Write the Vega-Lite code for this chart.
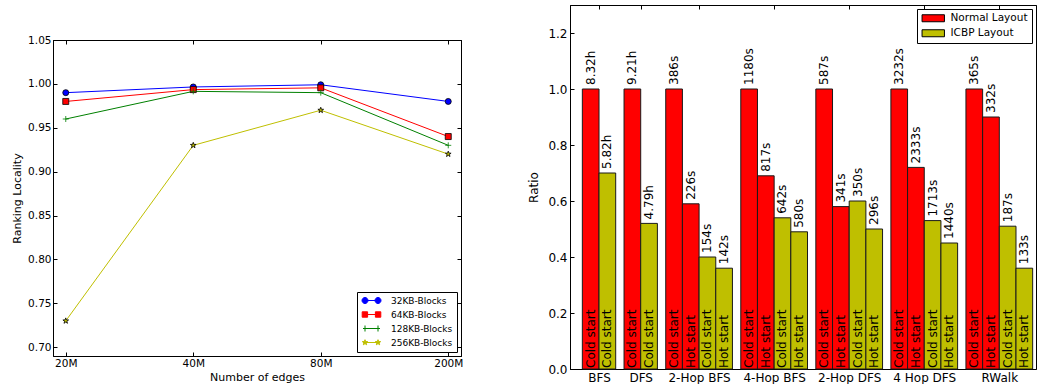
{
  "$schema": "https://vega.github.io/schema/vega-lite/v6.json",
  "padding": {"left": 11, "top": 4, "right": 0, "bottom": 0},
  "spacing": 63,
  "config": {
    "font": "DejaVu Sans",
    "view": {"stroke": "black", "strokeWidth": 1},
    "axis": {"domainColor": "black", "tickColor": "black", "labelColor": "black", "titleColor": "black", "grid": false, "titleFontWeight": "normal", "tickSize": -4, "labelPadding": 3, "domainWidth": 1, "tickWidth": 1, "labelFont": "DejaVu Sans", "titleFont": "DejaVu Sans"},
    "legend": {"strokeColor": "black", "fillColor": "white", "cornerRadius": 0, "labelColor": "black", "labelFont": "DejaVu Sans"}
  },
  "resolve": {"scale": {"fill": "independent", "stroke": "independent", "shape": "independent", "color": "independent"}, "legend": {"fill": "independent", "stroke": "independent", "shape": "independent", "color": "independent"}},
  "hconcat": [
    {
      "spacing": 10,
      "resolve": {"scale": {"fill": "independent", "stroke": "independent", "shape": "independent", "color": "independent"}, "legend": {"fill": "independent", "stroke": "independent", "shape": "independent", "color": "independent"}},
      "vconcat": [
        {
          "width": 408,
          "height": 19,
          "view": {"stroke": null},
          "data": {"values": []},
          "mark": {"type": "point"},
          "encoding": {}
        },
        {
          "width": 408,
          "height": 316,
          "data": {"values": [
            {"edges": "20M", "series": "32KB-Blocks", "locality": 0.99},
            {"edges": "40M", "series": "32KB-Blocks", "locality": 0.9965},
            {"edges": "80M", "series": "32KB-Blocks", "locality": 0.999},
            {"edges": "200M", "series": "32KB-Blocks", "locality": 0.98},
            {"edges": "20M", "series": "64KB-Blocks", "locality": 0.98},
            {"edges": "40M", "series": "64KB-Blocks", "locality": 0.9935},
            {"edges": "80M", "series": "64KB-Blocks", "locality": 0.9955},
            {"edges": "200M", "series": "64KB-Blocks", "locality": 0.94},
            {"edges": "20M", "series": "128KB-Blocks", "locality": 0.96},
            {"edges": "40M", "series": "128KB-Blocks", "locality": 0.9915},
            {"edges": "80M", "series": "128KB-Blocks", "locality": 0.99},
            {"edges": "200M", "series": "128KB-Blocks", "locality": 0.93},
            {"edges": "20M", "series": "256KB-Blocks", "locality": 0.73},
            {"edges": "40M", "series": "256KB-Blocks", "locality": 0.93},
            {"edges": "80M", "series": "256KB-Blocks", "locality": 0.97},
            {"edges": "200M", "series": "256KB-Blocks", "locality": 0.92}
          ]},
          "layer": [
            {
              "mark": {"type": "line", "strokeWidth": 1},
              "encoding": {
                "x": {"field": "edges", "type": "ordinal", "sort": ["20M", "40M", "80M", "200M"], "scale": {"type": "point", "padding": 0.1},
                      "axis": {"orient": "bottom", "title": "Number of edges", "labelAngle": 0, "labelFontSize": 10.5, "labelPadding": 6, "titleFontSize": 11, "titlePadding": 3}},
                "y": {"field": "locality", "type": "quantitative", "scale": {"domain": [0.69, 1.05], "nice": false, "zero": false},
                      "axis": {"orient": "left", "values": [0.7, 0.75, 0.8, 0.85, 0.9, 0.95, 1.0, 1.05], "format": ".2f", "title": "Ranking Locality", "labelFontSize": 10.5, "labelPadding": 6, "titleFontSize": 11, "titlePadding": 5}},
                "stroke": {"field": "series", "type": "nominal",
                           "scale": {"domain": ["32KB-Blocks", "64KB-Blocks", "128KB-Blocks", "256KB-Blocks"], "range": ["#0000ff", "#ff0000", "#008000", "#bfbf00"]},
                           "legend": {"title": null, "orient": "bottom-right", "offset": 4, "padding": 4, "labelFontSize": 9, "symbolSize": 64, "symbolOffset": 6, "labelOffset": 15, "rowPadding": 3, "symbolStrokeWidth": 1,
                                      "encode": {"symbols": {"update": {
                                        "shape": {"signal": "datum.value === '32KB-Blocks' ? 'M-2.125,0H2.125M-0.875,0A0.75,0.75 0 1 1 -2.375,0A0.75,0.75 0 1 1 -0.875,0ZM2.375,0A0.75,0.75 0 1 1 0.875,0A0.75,0.75 0 1 1 2.375,0Z' : datum.value === '64KB-Blocks' ? 'M-2.125,0H2.125M-2.325,-0.675H-0.975V0.675H-2.325ZM0.975,-0.675H2.325V0.675H0.975Z' : datum.value === '128KB-Blocks' ? 'M-2.125,0H2.125M-1.625,-0.75V0.75M1.625,-0.75V0.75' : 'M-2.125,0H2.125M-1.625,-0.7L-1.46,-0.2275L-0.96,-0.2175L-1.36,0.0875L-1.2125,0.5675L-1.625,0.28L-2.0375,0.5675L-1.89,0.0875L-2.29,-0.2175L-1.79,-0.2275ZM1.625,-0.7L1.79,-0.2275L2.29,-0.2175L1.89,0.0875L2.0375,0.5675L1.625,0.28L1.2125,0.5675L1.36,0.0875L0.96,-0.2175L1.46,-0.2275Z'"},
                                        "fill": {"signal": "datum.value === '32KB-Blocks' ? '#0000ff' : datum.value === '64KB-Blocks' ? '#ff0000' : datum.value === '128KB-Blocks' ? 'transparent' : '#bfbf00'"},
                                        "strokeWidth": {"value": 1}
                                      }}}}}
              }
            },
            {
              "mark": {"type": "point", "filled": true, "size": 36, "strokeWidth": 0.8, "opacity": 1},
              "encoding": {
                "x": {"field": "edges", "type": "ordinal", "sort": ["20M", "40M", "80M", "200M"], "axis": {"orient": "top", "labels": false, "title": null}},
                "y": {"field": "locality", "type": "quantitative", "axis": {"orient": "right", "labels": false, "title": null, "values": [0.7, 0.75, 0.8, 0.85, 0.9, 0.95, 1.0, 1.05]}},
                "fill": {"condition": [
                  {"test": "datum.series === '32KB-Blocks'", "value": "#0000ff"},
                  {"test": "datum.series === '64KB-Blocks'", "value": "#ff0000"},
                  {"test": "datum.series === '128KB-Blocks'", "value": "#008000"}
                ], "value": "#bfbf00"},
                "shape": {"condition": [
                  {"test": "datum.series === '32KB-Blocks'", "value": "circle"},
                  {"test": "datum.series === '64KB-Blocks'", "value": "square"},
                  {"test": "datum.series === '128KB-Blocks'", "value": "M-1,0H1M0,-1V1"}
                ], "value": "M0,-1L0.235,-0.324L0.951,-0.309L0.38,0.124L0.588,0.809L0,0.4L-0.588,0.809L-0.38,0.124L-0.951,-0.309L-0.235,-0.324Z"},
                "stroke": {"condition": {"test": "datum.series === '128KB-Blocks'", "value": "#008000"}, "value": "black"}
              }
            }
          ],
          "resolve": {"axis": {"x": "independent", "y": "independent"}}
        }
      ]
    },
    {
      "width": 466,
      "height": 364,
      "data": {"values": [
        {"task": "BFS", "layout": "Normal Layout", "start": "Cold start", "ratio": 1.0, "time": "8.32h"},
        {"task": "BFS", "layout": "ICBP Layout", "start": "Cold start", "ratio": 0.70, "time": "5.82h"},
        {"task": "DFS", "layout": "Normal Layout", "start": "Cold start", "ratio": 1.0, "time": "9.21h"},
        {"task": "DFS", "layout": "ICBP Layout", "start": "Cold start", "ratio": 0.52, "time": "4.79h"},
        {"task": "2-Hop BFS", "layout": "Normal Layout", "start": "Cold start", "ratio": 1.0, "time": "386s"},
        {"task": "2-Hop BFS", "layout": "Normal Layout", "start": "Hot start", "ratio": 0.59, "time": "226s"},
        {"task": "2-Hop BFS", "layout": "ICBP Layout", "start": "Cold start", "ratio": 0.40, "time": "154s"},
        {"task": "2-Hop BFS", "layout": "ICBP Layout", "start": "Hot start", "ratio": 0.36, "time": "142s"},
        {"task": "4-Hop BFS", "layout": "Normal Layout", "start": "Cold start", "ratio": 1.0, "time": "1180s"},
        {"task": "4-Hop BFS", "layout": "Normal Layout", "start": "Hot start", "ratio": 0.69, "time": "817s"},
        {"task": "4-Hop BFS", "layout": "ICBP Layout", "start": "Cold start", "ratio": 0.54, "time": "642s"},
        {"task": "4-Hop BFS", "layout": "ICBP Layout", "start": "Hot start", "ratio": 0.49, "time": "580s"},
        {"task": "2-Hop DFS", "layout": "Normal Layout", "start": "Cold start", "ratio": 1.0, "time": "587s"},
        {"task": "2-Hop DFS", "layout": "Normal Layout", "start": "Hot start", "ratio": 0.58, "time": "341s"},
        {"task": "2-Hop DFS", "layout": "ICBP Layout", "start": "Cold start", "ratio": 0.60, "time": "350s"},
        {"task": "2-Hop DFS", "layout": "ICBP Layout", "start": "Hot start", "ratio": 0.50, "time": "296s"},
        {"task": "4 Hop DFS", "layout": "Normal Layout", "start": "Cold start", "ratio": 1.0, "time": "3232s"},
        {"task": "4 Hop DFS", "layout": "Normal Layout", "start": "Hot start", "ratio": 0.72, "time": "2333s"},
        {"task": "4 Hop DFS", "layout": "ICBP Layout", "start": "Cold start", "ratio": 0.53, "time": "1713s"},
        {"task": "4 Hop DFS", "layout": "ICBP Layout", "start": "Hot start", "ratio": 0.45, "time": "1440s"},
        {"task": "RWalk", "layout": "Normal Layout", "start": "Cold start", "ratio": 1.0, "time": "365s"},
        {"task": "RWalk", "layout": "Normal Layout", "start": "Hot start", "ratio": 0.90, "time": "332s"},
        {"task": "RWalk", "layout": "ICBP Layout", "start": "Cold start", "ratio": 0.51, "time": "187s"},
        {"task": "RWalk", "layout": "ICBP Layout", "start": "Hot start", "ratio": 0.36, "time": "133s"}
      ]},
      "transform": [
        {"window": [{"op": "row_number", "as": "i"}]},
        {"window": [{"op": "min", "field": "i", "as": "first"}], "groupby": ["task"], "frame": [null, null]},
        {"window": [{"op": "dense_rank", "as": "g"}], "sort": [{"field": "first", "order": "ascending"}]},
        {"calculate": "datum.i - 1 + 0.5 * (datum.g - 1)", "as": "x0"},
        {"calculate": "datum.x0 + 1", "as": "x1"},
        {"calculate": "datum.x0 + 0.5", "as": "xc"}
      ],
      "layer": [
        {
          "mark": {"type": "bar", "stroke": "#1a1a1a", "strokeWidth": 1},
          "encoding": {
            "x": {"field": "x0", "type": "quantitative", "scale": {"domain": [-0.74, 27.2], "nice": false, "zero": false},
                  "axis": {"orient": "bottom", "values": [1, 3.5, 7, 11.5, 16, 20.5, 25], "labelExpr": "datum.value == 1 ? 'BFS' : datum.value == 3.5 ? 'DFS' : datum.value == 7 ? '2-Hop BFS' : datum.value == 11.5 ? '4-Hop BFS' : datum.value == 16 ? '2-Hop DFS' : datum.value == 20.5 ? '4 Hop DFS' : 'RWalk'", "title": null, "labelFontSize": 12, "labelPadding": 7, "labelFlush": false}},
            "x2": {"field": "x1"},
            "y": {"field": "ratio", "type": "quantitative", "scale": {"domain": [0, 1.3], "nice": false},
                  "axis": {"orient": "left", "values": [0, 0.2, 0.4, 0.6, 0.8, 1.0, 1.2], "format": ".1f", "title": "Ratio", "labelFontSize": 12, "labelPadding": 7, "titleFontSize": 12, "titlePadding": 7}},
            "y2": {"datum": 0},
            "fill": {"field": "layout", "type": "nominal", "scale": {"domain": ["Normal Layout", "ICBP Layout"], "range": ["#ff0000", "#bfbf00"]},
                     "legend": {"title": null, "orient": "top-right", "offset": 4, "padding": 4, "labelFontSize": 10.5, "symbolType": "M-3.2,-1H3.2V1H-3.2Z", "symbolSize": 49, "symbolOffset": 7, "symbolStrokeColor": "black", "symbolStrokeWidth": 1, "labelOffset": 12, "rowPadding": 3,
                                "encode": {"symbols": {"update": {"stroke": {"value": "black"}, "strokeWidth": {"value": 1}}}}}}
          }
        },
        {
          "mark": {"type": "text", "angle": 270, "align": "left", "baseline": "middle", "dx": 4, "fontSize": 12, "color": "black"},
          "encoding": {
            "x": {"field": "xc", "type": "quantitative", "axis": {"orient": "top", "labels": false, "title": null, "values": [1, 3.5, 7, 11.5, 16, 20.5, 25]}},
            "y": {"field": "ratio", "type": "quantitative", "axis": null},
            "text": {"field": "time"}
          }
        },
        {
          "mark": {"type": "text", "angle": 270, "align": "left", "baseline": "middle", "dx": 1, "fontSize": 12, "color": "black"},
          "encoding": {
            "x": {"field": "xc", "type": "quantitative", "axis": null},
            "y": {"datum": 0, "type": "quantitative", "axis": null},
            "text": {"field": "start"}
          }
        }
      ],
      "resolve": {"axis": {"x": "independent", "y": "independent"}}
    }
  ]
}
